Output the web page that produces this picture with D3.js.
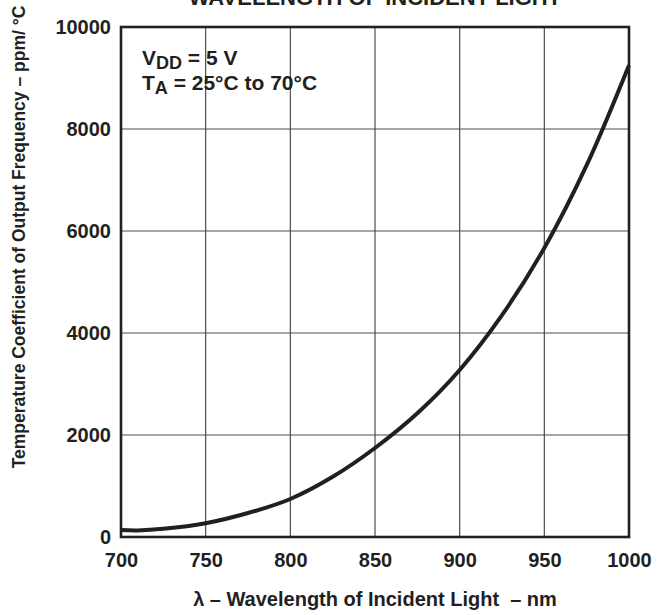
<!DOCTYPE html>
<html>
<head>
<meta charset="utf-8">
<script src="https://cdn.jsdelivr.net/npm/d3@7"></script>
<style>
  body { margin: 0; background: #fff; }
  svg text { font-family: "Liberation Sans", Arial, sans-serif; font-weight: bold; fill: #231f20; }
</style>
</head>
<body>
<svg width="668" height="615"></svg>
<script>
// wavelength (nm) vs temperature coefficient (ppm/°C)
var wavelengths = [700, 710, 725, 750, 775, 800, 825, 850, 875, 900, 925, 950, 975, 1000];
var tempCoef   = [135, 128, 160, 270, 470, 745, 1180, 1745, 2425, 3275, 4350, 5667, 7290, 9250];

var xTicks = [700, 750, 800, 850, 900, 950, 1000];
var yTicks = [0, 2000, 4000, 6000, 8000, 10000];

var svg = d3.select("svg"),
    width = +svg.attr("width"),
    height = +svg.attr("height");

var margin = {top: 27, right: 39, bottom: 78, left: 121};

var x = d3.scaleLinear()
    .domain([700, 1000])
    .range([margin.left, width - margin.right]);

var y = d3.scaleLinear()
    .domain([0, 10000])
    .range([height - margin.bottom, margin.top]);

// grid
svg.append("g")
    .selectAll("line")
    .data(xTicks.slice(1, -1))
    .enter().append("line")
    .attr("x1", d => x(d)).attr("x2", d => x(d))
    .attr("y1", y(0)).attr("y2", y(10000))
    .attr("stroke", "#4d4d4d")
    .attr("stroke-width", 1.2)

svg.append("g")
    .selectAll("line")
    .data(yTicks.slice(1, -1))
    .enter().append("line")
    .attr("x1", x(700)).attr("x2", x(1000))
    .attr("y1", d => y(d)).attr("y2", d => y(d))
    .attr("stroke", "#4d4d4d")
    .attr("stroke-width", 1.2)

// frame
svg.append("rect")
    .attr("x", x(700))
    .attr("y", y(10000))
    .attr("width", x(1000) - x(700))
    .attr("height", y(0) - y(10000))
    .attr("fill", "none")
    .attr("stroke", "#231f20")
    .attr("stroke-width", 2.6)

// tick labels through d3 axes, no domain/tick lines
var xAxis = d3.axisBottom(x).tickValues(xTicks).tickSize(0).tickPadding(16).tickFormat(d3.format("d"));
var yAxis = d3.axisLeft(y).tickValues(yTicks).tickSize(0).tickPadding(10).tickFormat(d3.format("d"));

var gX = svg.append("g")
    .attr("transform", "translate(0," + y(0) + ")")
    .call(xAxis)
gX.select(".domain").remove()
gX.selectAll("text").attr("font-size", 20).attr("fill", "#231f20")
    .attr("font-family", "Liberation Sans, Arial, sans-serif").attr("font-weight", "bold")

var gY = svg.append("g")
    .attr("transform", "translate(" + x(700) + ",0)")
    .call(yAxis)
gY.select(".domain").remove()
gY.selectAll("text").attr("font-size", 20).attr("fill", "#231f20")
    .attr("font-family", "Liberation Sans, Arial, sans-serif").attr("font-weight", "bold")

// curve
var line = d3.line()
    .x((d, i) => x(wavelengths[i]))
    .y(d => y(d))
    .curve(d3.curveCatmullRom.alpha(0.5))

svg.append("path")
    .datum(tempCoef)
    .attr("d", line)
    .attr("fill", "none")
    .attr("stroke", "#231f20")
    .attr("stroke-width", 4)

// title (cut off at top)
svg.append("text")
    .attr("x", (x(700) + x(1000)) / 2)
    .attr("y", 5)
    .attr("text-anchor", "middle")
    .attr("font-size", 22)
    .text("WAVELENGTH OF INCIDENT LIGHT")

// legend
var t1 = svg.append("text").attr("x", 142).attr("y", 65).attr("font-size", 21)
t1.append("tspan").text("V")
t1.append("tspan").attr("font-size", 18).attr("dy", 4).text("DD")
t1.append("tspan").attr("dy", -4).text(" = 5 V")

var t2 = svg.append("text").attr("x", 142).attr("y", 90).attr("font-size", 21)
t2.append("tspan").text("T")
t2.append("tspan").attr("font-size", 18).attr("dy", 4).text("A")
t2.append("tspan").attr("dy", -4).text(" = 25°C to 70°C")

// axis titles
svg.append("text")
    .attr("x", x(850))
    .attr("y", 606)
    .attr("text-anchor", "middle")
    .attr("font-size", 20)
    .attr("xml:space", "preserve")
    .text("λ – Wavelength of Incident Light  – nm")

svg.append("text")
    .attr("transform", "translate(25,237) rotate(-90)")
    .attr("text-anchor", "middle")
    .attr("font-size", 17.5)
    .text("Temperature Coefficient of Output Frequency – ppm/ °C")
</script>
</body>
</html>
